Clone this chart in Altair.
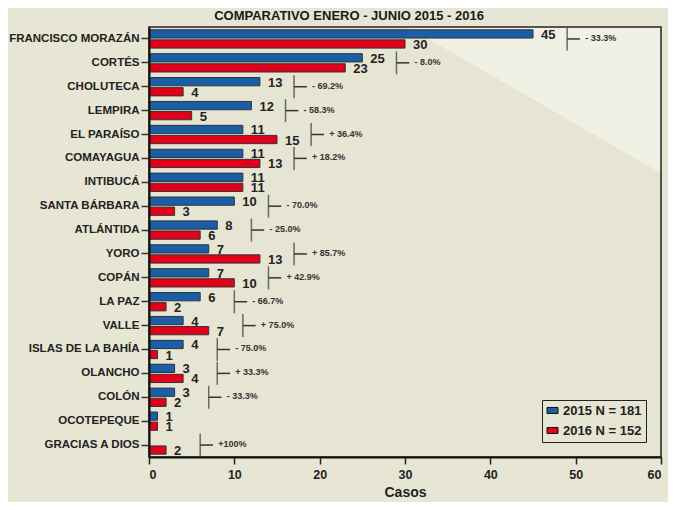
import altair as alt
import pandas as pd

departamentos = ["FRANCISCO MORAZÁN", "CORTÉS", "CHOLUTECA", "LEMPIRA", "EL PARAÍSO",
                 "COMAYAGUA", "INTIBUCÁ", "SANTA BÁRBARA", "ATLÁNTIDA", "YORO", "COPÁN",
                 "LA PAZ", "VALLE", "ISLAS DE LA BAHÍA", "OLANCHO", "COLÓN", "OCOTEPEQUE",
                 "GRACIAS A DIOS"]
casos_2015 = [45, 25, 13, 12, 11, 11, 11, 10, 8, 7, 7, 6, 4, 4, 3, 3, 1, 0]
casos_2016 = [30, 23, 4, 5, 15, 13, 11, 3, 6, 13, 10, 2, 7, 1, 4, 2, 1, 2]
variacion = ["- 33.3%", "- 8.0%", "- 69.2%", "- 58.3%", "+ 36.4%", "+ 18.2%", "",
             "- 70.0%", "- 25.0%", "+ 85.7%", "+ 42.9%", "- 66.7%", "+ 75.0%", "- 75.0%",
             "+ 33.3%", "- 33.3%", "", "+100%"]
series = ["2015 N = 181", "2016 N = 152"]
colores = ["#1a5ea8", "#e2001a"]
x_ticks = [0, 10, 20, 30, 40, 50, 60]

FONT = "Liberation Sans"

rows = []
for d, a, b in zip(departamentos, casos_2015, casos_2016):
    if a > 0:
        rows.append({"dep": d, "serie": series[0], "casos": a})
    if b > 0:
        rows.append({"dep": d, "serie": series[1], "casos": b})
df = pd.DataFrame(rows)

brk = []
for d, a, b, p in zip(departamentos, casos_2015, casos_2016, variacion):
    if p:
        bx = max(a, b) + 4
        brk.append({"dep": d, "bx": bx, "bx2": bx + 1.5, "pct": p})
dfb = pd.DataFrame(brk)

y_enc = alt.Y("dep:N", sort=departamentos,
              scale=alt.Scale(paddingInner=0.233, paddingOuter=0.117),
              axis=alt.Axis(title=None, labelFont=FONT, labelFontSize=11.5,
                            labelFontWeight="bold", labelColor="#222", tickColor="#333",
                            tickSize=8, tickWidth=1.5, labelPadding=2, domainColor="#111",
                            domainWidth=2, zindex=1, labelLimit=300))
yoff = alt.YOffset("serie:N", sort=series, scale=alt.Scale(paddingInner=0.18))
x_enc = alt.X("casos:Q", scale=alt.Scale(domain=[0, 60], nice=False),
              axis=alt.Axis(values=x_ticks, title="Casos", titleFont=FONT, titleFontSize=14,
                            titleFontWeight="bold", titleColor="#222", labelFont=FONT,
                            labelFontSize=12.5, labelFontWeight="bold", labelColor="#222",
                            tickSize=7, tickWidth=1.5, tickColor="#222", domainColor="#111",
                            domainWidth=2, grid=False, titlePadding=5, labelPadding=4,
                            zindex=1))

gradient = {
    "gradient": "linear",
    "x1": 0.394, "y1": 0.2555, "x2": 0.704, "y2": -0.1955,
    "stops": [
        {"offset": 0, "color": "#e6e5d3"},
        {"offset": 0.5, "color": "#e6e5d3"},
        {"offset": 0.5, "color": "#f0f0e4"},
        {"offset": 1, "color": "#f0f0e4"},
    ],
}

bg = alt.Chart(alt.Data(values=[{}])).mark_rect(
    fill=gradient, stroke="#222", strokeWidth=1.5
).encode(x=alt.value(0), x2=alt.value("width"), y=alt.value(0), y2=alt.value("height"))

bars = alt.Chart(df).mark_bar(stroke="#333", strokeWidth=1).encode(
    y=y_enc, yOffset=yoff, x=x_enc,
    color=alt.Color("serie:N", scale=alt.Scale(domain=series, range=colores),
                    legend=alt.Legend(title=None, orient="none", legendX=393, legendY=373,
                                      strokeColor="#222", padding=4,
                                      symbolType="M-1,-0.55H1V0.55H-1Z", symbolSize=121,
                                      symbolStrokeColor="#111", symbolStrokeWidth=1,
                                      labelFont=FONT, labelFontSize=13,
                                      labelFontWeight="bold", labelColor="#222",
                                      rowPadding=6, labelOffset=4)),
)

labels = alt.Chart(df).mark_text(
    align="left", baseline="middle", dx=8, dy=1, font=FONT, fontSize=13,
    fontWeight="bold", color="#222"
).encode(y=alt.Y("dep:N", sort=departamentos), yOffset=yoff,
         x="casos:Q", text="casos:Q")

ticks = alt.Chart(dfb).mark_tick(size=23, thickness=1.5, color="#333").encode(
    y=alt.Y("dep:N", sort=departamentos), x="bx:Q")

arms = alt.Chart(dfb).mark_rule(color="#333", strokeWidth=1.5).encode(
    y=alt.Y("dep:N", sort=departamentos), x="bx:Q", x2="bx2:Q")

pct = alt.Chart(dfb).mark_text(
    align="left", baseline="middle", dx=18, dy=-1, font=FONT, fontSize=9,
    fontWeight="bold", color="#333"
).encode(y=alt.Y("dep:N", sort=departamentos), x="bx:Q", text="pct:N")

chart = alt.layer(bg, bars, labels, ticks, arms, pct).properties(
    width=512, height=430,
    autosize=alt.AutoSizeParams(type="none"),
    padding={"left": 141, "top": 19, "right": 7, "bottom": 45},
    background="#e7e6d4",
    title=alt.TitleParams("COMPARATIVO ENERO - JUNIO 2015 - 2016", font=FONT, fontSize=13,
                          fontWeight="bold", color="#1a1a1a", anchor="middle", dx=-56,
                          offset=3),
).configure_view(stroke=None)

chart.save("out.html", embed_options={"renderer": "svg", "actions": False})
